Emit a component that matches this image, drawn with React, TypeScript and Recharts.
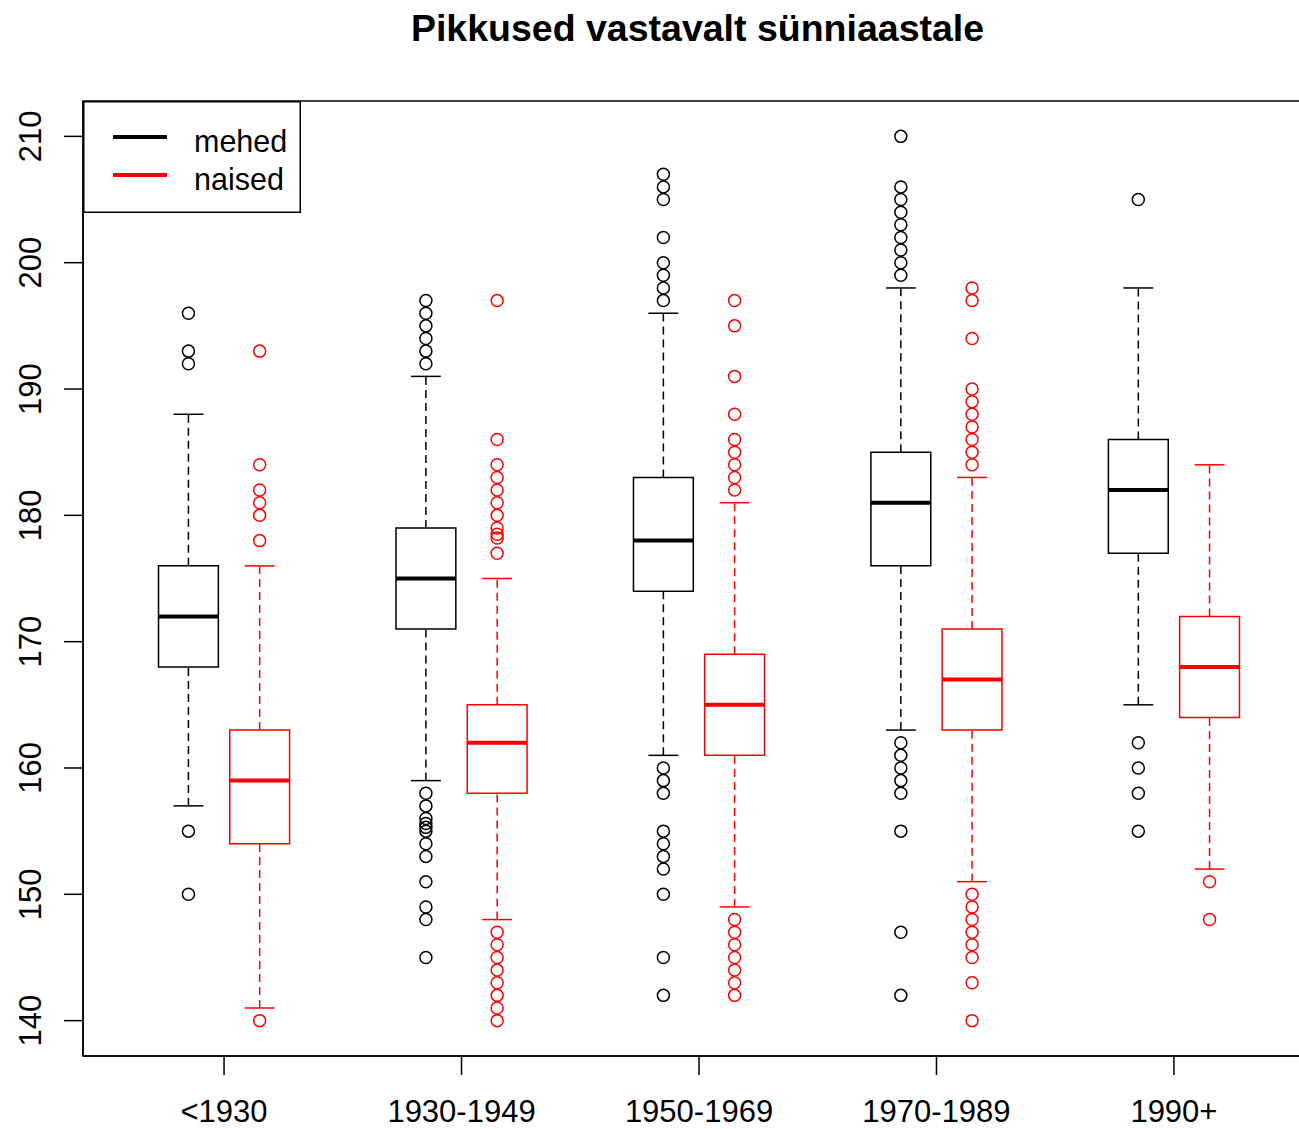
import {
  ComposedChart,
  XAxis,
  YAxis,
  Scatter,
  ReferenceArea,
  ReferenceLine,
  Legend,
} from "recharts";

// birth cohort groups
const groups = ["<1930", "1930-1949", "1950-1969", "1970-1989", "1990+"];

// five-number summaries per group: [lower whisker, Q1, median, Q3, upper whisker]
const menSummary = [
  [157, 168, 172, 176, 188],
  [159, 171, 175, 179, 191],
  [161, 174, 178, 183, 196],
  [163, 176, 181, 185, 198],
  [165, 177, 182, 186, 198],
];
const womenSummary = [
  [141, 154, 159, 163, 176],
  [148, 158, 162, 165, 175],
  [149, 161, 165, 169, 181],
  [151, 163, 167, 171, 183],
  [152, 164, 168, 172, 184],
];

const menOutliers = [
  [196, 193, 192, 155, 150],
  [197, 196, 195, 194, 193, 192, 158, 157, 156, 155.6, 155.3, 155, 154, 153, 151, 149, 148, 145],
  [207, 206, 205, 202, 200, 199, 198, 197, 160, 159, 158, 155, 154, 153, 152, 150, 145, 142],
  [210, 206, 205, 204, 203, 202, 201, 200, 199, 162, 161, 160, 159, 158, 155, 147, 142],
  [205, 162, 160, 158, 155],
];
const womenOutliers = [
  [193, 184, 182, 181, 180, 178, 140],
  [197, 186, 184, 183, 182, 181, 180, 179, 178.5, 178.2, 177, 147, 146, 145, 144, 143, 142, 141, 140],
  [197, 195, 191, 188, 186, 185, 184, 183, 182, 148, 147, 146, 145, 144, 143, 142],
  [198, 197, 194, 190, 189, 188, 187, 186, 185, 184, 150, 149, 148, 147, 146, 145, 143, 140],
  [151, 148],
];

const yTicks = [140, 150, 160, 170, 180, 190, 200, 210];

const BLACK = "#000000";
const RED = "#ff0000";
const FONT = "'Liberation Sans', Arial, sans-serif";

const X_DOMAIN: [number, number] = [-0.594, 4.594];
const Y_DOMAIN: [number, number] = [137.2, 212.8];
const OFFSET = 0.15;
const HALF_BOX = 0.126;
const HALF_CAP = 0.063;

const menPoints = menOutliers.flatMap((vals, i) =>
  vals.map((v) => ({ x: i - OFFSET, y: v }))
);
const womenPoints = womenOutliers.flatMap((vals, i) =>
  vals.map((v) => ({ x: i + OFFSET, y: v }))
);

const ring = (color: string) => (props: any) => (
  <circle
    cx={props.cx}
    cy={props.cy}
    r={6}
    fill="none"
    stroke={color}
    strokeWidth={1.5}
  />
);

function boxes(summary: number[][], shift: number, color: string, key: string) {
  return summary.map(([lo, q1, med, q3, hi], i) => {
    const c = i + shift;
    return (
      <g key={`${key}-${i}`}>
        <ReferenceLine
          segment={[{ x: c, y: q3 }, { x: c, y: hi }]}
          stroke={color}
          strokeWidth={1.5}
          strokeDasharray="8 5"
        />
        <ReferenceLine
          segment={[{ x: c, y: lo }, { x: c, y: q1 }]}
          stroke={color}
          strokeWidth={1.5}
          strokeDasharray="8 5"
        />
        <ReferenceLine
          segment={[{ x: c - HALF_CAP, y: hi }, { x: c + HALF_CAP, y: hi }]}
          stroke={color}
          strokeWidth={1.5}
        />
        <ReferenceLine
          segment={[{ x: c - HALF_CAP, y: lo }, { x: c + HALF_CAP, y: lo }]}
          stroke={color}
          strokeWidth={1.5}
        />
        <ReferenceArea
          x1={c - HALF_BOX}
          x2={c + HALF_BOX}
          y1={q1}
          y2={q3}
          fill="#ffffff"
          fillOpacity={1}
          stroke={color}
          strokeWidth={1.5}
        />
        <ReferenceLine
          segment={[{ x: c - HALF_BOX, y: med }, { x: c + HALF_BOX, y: med }]}
          stroke={color}
          strokeWidth={4}
        />
      </g>
    );
  });
}

const XTick = ({ x, y, payload }: any) => (
  <text x={x} y={y + 47} textAnchor="middle" fontSize={31} fontFamily={FONT} fill={BLACK}>
    {groups[payload.value]}
  </text>
);

const YTick = ({ x, y, payload }: any) => (
  <text
    transform={`translate(${x - 23},${y}) rotate(-90)`}
    textAnchor="middle"
    fontSize={31}
    fontFamily={FONT}
    fill={BLACK}
  >
    {payload.value}
  </text>
);

const LegendBox = () => (
  <svg width={218} height={112} style={{ display: "block" }}>
    <rect x={0.75} y={0.75} width={216.5} height={110.5} fill="#ffffff" stroke={BLACK} strokeWidth={1.5} />
    <line x1={30} x2={84} y1={36} y2={36} stroke={BLACK} strokeWidth={4} />
    <line x1={30} x2={84} y1={74} y2={74} stroke={RED} strokeWidth={4} />
    <text x={111} y={51} fontSize={30.5} fontFamily={FONT} fill={BLACK}>mehed</text>
    <text x={111} y={89} fontSize={30.5} fontFamily={FONT} fill={BLACK}>naised</text>
  </svg>
);

export default function App() {
  return (
    <div
      style={{
        position: "fixed",
        left: 0,
        top: 0,
        width: 1299,
        height: 1129,
        overflow: "hidden",
        background: "#ffffff",
        fontFamily: FONT,
      }}
    >
      <div
        style={{
          position: "absolute",
          left: 0,
          top: 6,
          width: 1395,
          textAlign: "center",
          fontSize: 37.5,
          fontWeight: "bold",
          lineHeight: "44px",
          color: BLACK,
        }}
      >
        Pikkused vastavalt sünniaastale
      </div>
      <ComposedChart
        width={1340}
        height={1129}
        margin={{ top: 101, right: 25, bottom: 0, left: 0 }}
      >
        <XAxis
          dataKey="x"
          type="number"
          domain={X_DOMAIN}
          allowDataOverflow
          ticks={[0, 1, 2, 3, 4]}
          tick={<XTick />}
          tickSize={19}
          tickMargin={0}
          height={73}
          stroke={BLACK}
          strokeWidth={1.5}
        />
        <YAxis
          dataKey="y"
          type="number"
          domain={Y_DOMAIN}
          allowDataOverflow
          ticks={yTicks}
          tick={<YTick />}
          tickSize={19}
          tickMargin={0}
          width={83}
          stroke={BLACK}
          strokeWidth={1.5}
        />
        <ReferenceArea
          x1={X_DOMAIN[0]}
          x2={X_DOMAIN[1]}
          y1={Y_DOMAIN[0]}
          y2={Y_DOMAIN[1]}
          fill="none"
          stroke={BLACK}
          strokeWidth={1.5}
        />
        {boxes(menSummary, -OFFSET, BLACK, "men")}
        {boxes(womenSummary, OFFSET, RED, "women")}
        <Scatter
          name="mehed"
          data={menPoints}
          dataKey="y"
          shape={ring(BLACK)}
          isAnimationActive={false}
        />
        <Scatter
          name="naised"
          data={womenPoints}
          dataKey="y"
          shape={ring(RED)}
          isAnimationActive={false}
        />
        <Legend
          layout="horizontal"
          verticalAlign="middle"
          align="center"
          content={<LegendBox />}
          wrapperStyle={{ left: 83, top: 101, width: 218, height: 112 }}
        />
      </ComposedChart>
    </div>
  );
}
